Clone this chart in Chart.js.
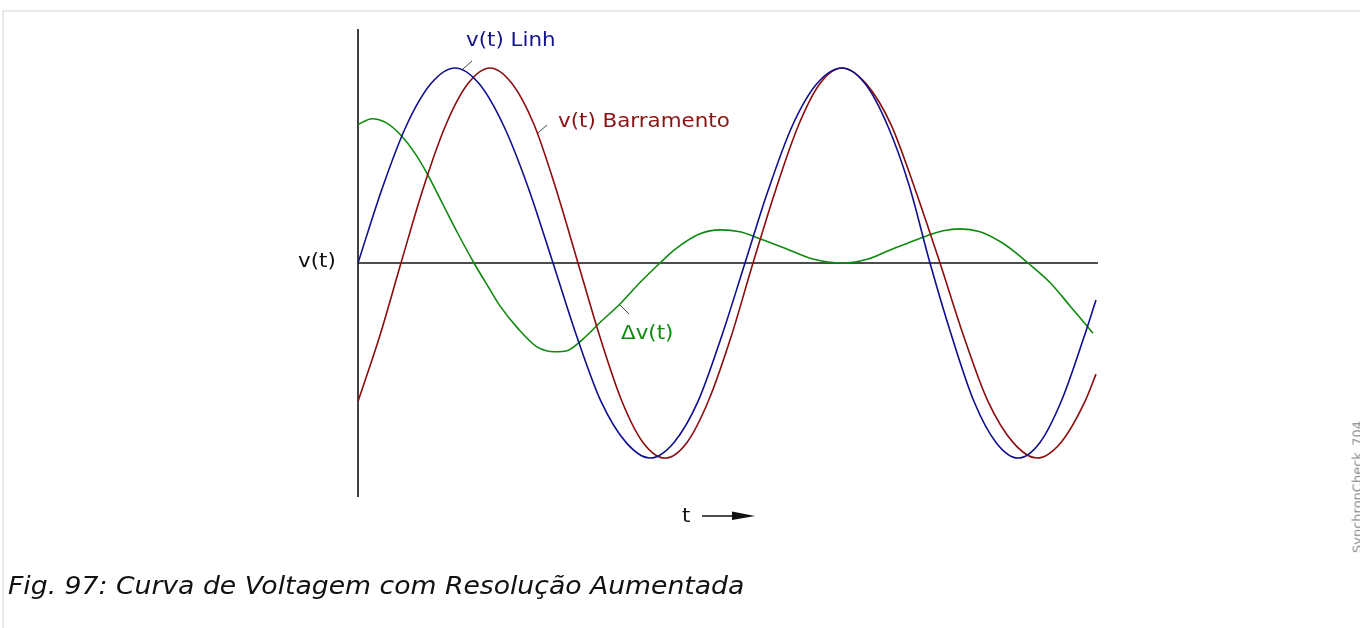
<!DOCTYPE html>
<html>
<head>
<meta charset="utf-8">
<script src="https://cdn.jsdelivr.net/npm/chart.js@4/dist/chart.umd.min.js"></script>
<style>
  html, body { margin: 0; padding: 0; background: #fff; }
  body { width: 1360px; height: 628px; position: relative; overflow: hidden; font-family: "DejaVu Sans", sans-serif; }
  #frame { position: absolute; left: 2px; top: 10px; right: 0; bottom: 0; border-top: 2px solid #e8e8e8; border-left: 2px solid #e8e8e8; }
  #wrap { position: absolute; left: 0; top: 0; width: 1360px; height: 628px; }
  .lbl { position: absolute; line-height: 1; white-space: nowrap; transform-origin: 0 50%; transform: translateY(-50%) scaleX(1.07); font-size: 20px; }
  #caption { position: absolute; left: 8px; top: 586px; transform-origin: 0 50%; transform: translateY(-50%) scaleX(1.11); font-size: 24px; font-style: italic; line-height: 1; color: #111; white-space: nowrap; }
  #tag { position: absolute; left: 1357px; top: 487px; transform: translate(-50%, -50%) rotate(-90deg); font-size: 13px; color: #8a8a8a; white-space: nowrap; line-height: 1; }
</style>
</head>
<body>
<div id="frame"></div>
<div id="wrap"><canvas id="chart" width="1360" height="628"></canvas></div>
<div class="lbl" style="left:298px; top:260px; color:#111;">v(t)</div>
<div class="lbl" style="left:466px; top:39px; color:#14148c;">v(t) Linh</div>
<div class="lbl" style="left:558px; top:120px; color:#8b1212;">v(t) Barramento</div>
<div class="lbl" style="left:621px; top:332px; color:#128a12;">Δv(t)</div>
<div class="lbl" style="left:682px; top:515px; color:#111;">t</div>
<div id="caption">Fig. 97: Curva de Voltagem com Resolução Aumentada</div>
<div id="tag">SynchronCheck_704</div>
<script>
// time axis (arbitrary units) and voltages, peak = 1
const tLinh = [0, 24, 48, 73, 97, 121, 146, 170, 195, 219, 243, 268, 292, 316, 340, 364, 387,
    410, 434, 459, 484, 507, 530, 551, 572, 594, 616, 638, 660, 682, 704, 726, 738];
const vLinh = [0, 0.38, 0.70, 0.92, 1.0, 0.92, 0.70, 0.39, 0, -0.38, -0.71, -0.92, -1.0, -0.92, -0.71, -0.37, 0,
    0.37, 0.70, 0.92, 1.0, 0.92, 0.70, 0.40, 0, -0.38, -0.71, -0.92, -1.0, -0.92, -0.70, -0.38, -0.19];

const tBarr = [0, 22, 43, 65, 88, 110, 132, 154, 176, 198, 220, 242, 264, 285, 307, 329, 351, 373, 395,
    418, 440, 462, 484, 508, 533, 557, 582, 606, 630, 655, 679, 703, 727, 738];
const vBarr = [-0.71, -0.37, 0, 0.38, 0.71, 0.92, 1.0, 0.92, 0.71, 0.38, 0, -0.38, -0.71, -0.92, -1.0, -0.92, -0.70, -0.38, 0,
    0.38, 0.70, 0.92, 1.0, 0.92, 0.71, 0.38, 0, -0.38, -0.71, -0.92, -1.0, -0.92, -0.71, -0.57];

const tDelta = [0, 14, 28, 42, 56, 69, 85, 100, 116, 130, 142, 159, 179, 197, 209, 225, 243, 262, 282, 302,
    317, 342, 362, 382, 404, 425, 455, 485, 510, 529, 549, 569, 585, 602, 622, 642, 656, 670, 692, 712, 735];
const vDelta = [0.71, 0.74, 0.72, 0.66, 0.57, 0.46, 0.30, 0.15, 0, -0.12, -0.22, -0.33, -0.43, -0.455, -0.45, -0.39, -0.30, -0.21, -0.10, 0,
    0.07, 0.15, 0.17, 0.16, 0.12, 0.08, 0.02, 0, 0.02, 0.06, 0.10, 0.14, 0.165, 0.175, 0.16, 0.11, 0.06, 0, -0.10, -0.22, -0.36];

// small leader ticks pointing from the labels to their curves
const leaderLinh = [[105, 0.995], [114, 1.036]];
const leaderBarr = [[180, 0.667], [189, 0.708]];
const leaderDelta = [[262, -0.215], [271, -0.262]];

const tMax = 740;
const vRange = 1.2;

const pts = (xs, ys) => xs.map((x, i) => ({ x: x, y: ys[i] }));
const pairs = (list) => list.map(p => ({ x: p[0], y: p[1] }));

const curve = (label, data, color) => ({
    label: label,
    data: data,
    borderColor: color,
    borderWidth: 1.6,
    pointRadius: 0,
    cubicInterpolationMode: 'monotone',
    fill: false
});

const straight = (data, color, width) => ({
    data: data,
    borderColor: color,
    borderWidth: width,
    pointRadius: 0,
    tension: 0,
    fill: false,
    clip: false
});

// arrow after the "t" label
const timeArrow = {
    id: 'timeArrow',
    afterDraw(chart) {
        const c = chart.ctx;
        c.save();
        c.strokeStyle = '#111';
        c.fillStyle = '#111';
        c.lineWidth = 1.5;
        c.beginPath();
        c.moveTo(702, 516);
        c.lineTo(735, 516);
        c.stroke();
        c.beginPath();
        c.moveTo(732, 511.5);
        c.lineTo(755, 516);
        c.lineTo(732, 520);
        c.closePath();
        c.fill();
        c.restore();
    }
};

new Chart(document.getElementById('chart').getContext('2d'), {
    type: 'line',
    data: {
        datasets: [
            curve('v(t) Linh', pts(tLinh, vLinh), '#10108e'),
            curve('v(t) Barramento', pts(tBarr, vBarr), '#8b0d0d'),
            curve('Δv(t)', pts(tDelta, vDelta), '#0f8a0f'),
            straight(pairs(leaderLinh), '#444', 1),
            straight(pairs(leaderBarr), '#444', 1),
            straight(pairs(leaderDelta), '#444', 1),
            straight([{ x: 0, y: -vRange }, { x: 0, y: vRange }], '#111', 1.6),
            straight([{ x: 0, y: 0 }, { x: tMax, y: 0 }], '#111', 1.6)
        ]
    },
    options: {
        responsive: false,
        animation: false,
        events: [],
        layout: { padding: { left: 358, right: 262, top: 29, bottom: 131 } },
        plugins: {
            legend: { display: false },
            tooltip: { enabled: false }
        },
        scales: {
            x: { type: 'linear', min: 0, max: tMax, display: false },
            y: { type: 'linear', min: -vRange, max: vRange, display: false }
        }
    },
    plugins: [timeArrow]
});
</script>
</body>
</html>
